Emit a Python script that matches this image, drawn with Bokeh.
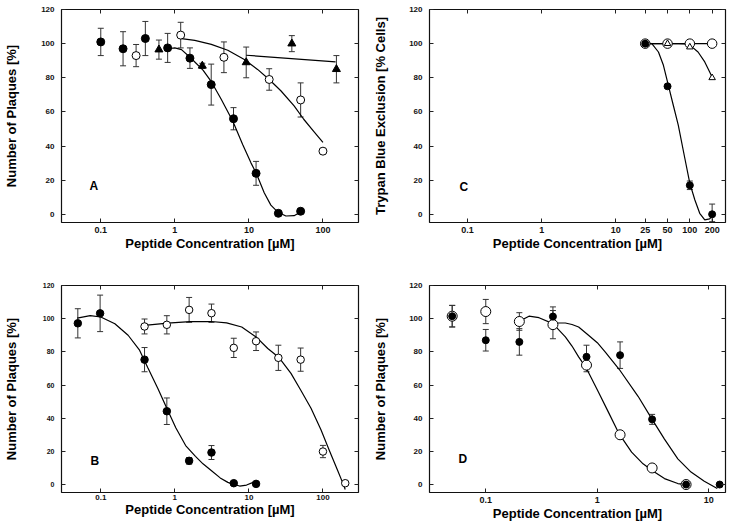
from bokeh.plotting import figure
from bokeh.layouts import gridplot
from bokeh.models import (FixedTicker, LogAxis, LinearAxis, Whisker, TeeHead,
                          ColumnDataSource, Range1d, Label, CustomJSTickFormatter)
from bokeh.embed import file_html
from bokeh.resources import INLINE

FONT = "Liberation Sans"

# ---------------- axis ticks ----------------
y_ticks = [0, 20, 40, 60, 80, 100, 120]
x_ticks_std = [0.1, 1, 10, 100]
x_ticks_C = [0.1, 1, 10, 25, 50, 100, 200]
x_ticks_D = [0.1, 1, 10]

# ---------------- panel A ----------------
A_filled_x = [0.1, 0.2, 0.4, 0.8, 1.6, 3.1, 6.2, 12.5, 25, 50]
A_filled_y = [101, 97, 103, 97.5, 91.5, 76, 56, 24, 0.6, 1.8]
A_filled_err = [8, 10, 10, 8.5, 6, 12, 6.5, 7, 0, 0]
A_open_x = [0.3, 1.2, 4.6, 18.8, 50, 100]
A_open_y = [93, 105, 92, 79, 67, 37]
A_open_err = [6.5, 7.5, 9, 6.3, 10, 0]
A_tri_x = [0.61, 2.35, 9.2, 38, 152]
A_tri_y = [96.5, 87, 89, 100, 85]
A_tri_err = [5.6, 1.5, 9, 4.7, 8]
A_fit_filled_x = [0.81, 1.0, 1.23, 1.67, 2.4, 3.11, 4.23, 6.07, 8.27, 10.7, 12.5, 16.1, 19.8, 24.4, 31.6, 40.8, 50]
A_fit_filled_y = [97, 97.5, 96.5, 91.3, 84.5, 77.7, 67.4, 54.5, 40.8, 30, 24.3, 12.6, 5.4, 1.4, -1, -0.8, 1.4]
A_fit_open_x = [1.23, 1.86, 3.11, 5.19, 8.68, 13.1, 18.8, 27, 40.8, 55, 75.5, 100]
A_fit_open_y = [102.9, 101.9, 99.6, 96.1, 90.7, 84.9, 79, 72.4, 63.5, 55.7, 48.5, 42.1]
A_fit_tri_x = [9.2, 148]
A_fit_tri_y = [93.2, 89.3]

# ---------------- panel B ----------------
B_filled_x = [0.049, 0.098, 0.39, 0.78, 1.56, 3.125, 6.25, 12.5]
B_filled_y = [97.2, 103.2, 75.3, 44.2, 14.3, 19.3, 0.8, 0.4]
B_filled_err = [8.8, 11, 7.3, 8, 2, 4.2, 0, 0]
B_open_x = [0.39, 0.78, 1.56, 3.125, 6.25, 12.5, 25, 50, 100, 200]
B_open_y = [95.3, 96.3, 105.3, 103.3, 82.4, 86.4, 76.4, 75.3, 19.9, 0.8]
B_open_err = [4.5, 5.5, 7.5, 5.5, 5.8, 5.6, 7.6, 7, 3.7, 0]
B_fit_filled_x = [0.048, 0.072, 0.1, 0.155, 0.234, 0.334, 0.432, 0.588, 0.782, 1.03, 1.4, 1.9, 2.4, 3.1, 4.1, 5.2, 6.2, 7.5, 9.3, 11.4, 12.5]
B_fit_filled_y = [100.3, 101.8, 101, 96.9, 90, 81, 70.4, 58.1, 45.8, 34.2, 23.5, 17, 12.5, 8.5, 4, 1.3, 0.1, -0.9, -0.3, 1.3, 1.8]
B_fit_open_x = [0.39, 0.8, 1.6, 3.1, 5, 8, 12.5, 18, 25.7, 37, 50, 69, 94, 122, 158, 185, 200]
B_fit_open_y = [96, 97.3, 98.2, 98.3, 97.5, 95, 89, 82, 76.4, 67, 57, 46, 33, 20.5, 8.5, 1, -3]

# ---------------- panel C ----------------
C_filled_x = [25, 50, 100, 200]
C_filled_y = [100, 75, 17, 0]
C_filled_err = [0, 0, 2.5, 6]
C_open_x = [25, 50, 100, 200]
C_open_y = [100, 100, 100, 100]
C_tri_x = [25, 50, 100, 200]
C_tri_y = [100, 100, 98, 80]
C_fit_filled_x = [25, 30.7, 37.7, 44, 51.3, 59.8, 69.8, 85.7, 100, 117, 136, 159, 185, 206]
C_fit_filled_y = [100.4, 100, 95.1, 87.3, 75.6, 63.9, 52.2, 32.7, 18.1, 8.4, 0.6, -3.3, -2.7, -0.4]
C_fit_open_x = [25, 200]
C_fit_open_y = [100, 100]
C_fit_tri_x = [25, 70, 85.7, 105, 129, 159, 200]
C_fit_tri_y = [100, 100, 99.8, 98.4, 95.1, 89.3, 80.5]

# ---------------- panel D ----------------
D_filled_x = [0.05, 0.1, 0.2, 0.4, 0.8, 1.6, 3.1, 6.25, 12.5]
D_filled_y = [101.5, 87, 86, 101.3, 77, 78, 39.3, 0, 0]
D_filled_err = [6.5, 6.5, 8, 5.8, 7, 8, 3, 0, 0]
D_open_x = [0.05, 0.1, 0.2, 0.4, 0.8, 1.6, 3.1, 6.25]
D_open_y = [101.5, 104.3, 98.3, 96.4, 72, 30, 10, 0]
D_open_err = [6.5, 7.3, 5.3, 8.5, 4, 0, 0, 0]
D_fit_open_x = [0.2, 0.244, 0.3, 0.4, 0.517, 0.593, 0.68, 0.8, 1.02, 1.26, 1.57, 2.03, 2.57, 3.1, 4.0, 5.27, 6.25, 6.9]
D_fit_open_y = [98.5, 101.5, 100.6, 97, 89, 83.5, 77, 70, 56, 43.5, 30.5, 19.5, 12.5, 8.5, 3.6, 0.6, 0, 0.5]
D_fit_filled_x = [0.4, 0.517, 0.593, 0.68, 0.834, 1.0, 1.175, 1.57, 2.32, 3.1, 4.0, 5.27, 6.92, 9.1, 11.9]
D_fit_filled_y = [97.4, 97.4, 96.5, 95, 90, 85.5, 80, 69.5, 53.2, 39.3, 27.4, 15.5, 7.5, 2, -2.4]

Y_MIN = -4.8
Y_MAX = 120


def make_panel(width, height, xr, xticks, ylabel, borders, xtick_px, ytick_px,
               ylab_standoff, xtick_standoff, xlab_standoff):
    bl, br, bt, bb = borders
    p = figure(width=width, height=height, x_axis_type="log",
               x_range=Range1d(*xr), y_range=Range1d(Y_MIN, Y_MAX),
               output_backend="svg", toolbar_location=None,
               min_border_left=bl, min_border_right=br,
               min_border_top=bt, min_border_bottom=bb,
               background_fill_color="white", border_fill_color="white")
    p.grid.visible = False
    p.outline_line_color = "#111111"
    p.outline_line_width = 1.2
    p.xaxis.ticker = FixedTicker(ticks=xticks, minor_ticks=[])
    p.xaxis.formatter = CustomJSTickFormatter(code="return String(tick)")
    p.yaxis.ticker = FixedTicker(ticks=y_ticks, minor_ticks=[])
    for ax in (p.xaxis[0], p.yaxis[0]):
        ax.axis_line_color = None
        ax.major_tick_in = 4
        ax.major_tick_out = 0
        ax.major_tick_line_color = "#222222"
        ax.minor_tick_line_color = None
        ax.major_label_text_font = FONT
        ax.major_label_text_font_style = "bold"
        ax.major_label_text_color = "#111111"
        ax.axis_label_text_font = FONT
        ax.axis_label_text_font_size = "13px"
        ax.axis_label_text_font_style = "bold"
        ax.axis_label_text_color = "black"
    p.xaxis.major_label_text_font_size = xtick_px
    p.yaxis.major_label_text_font_size = ytick_px
    p.xaxis.axis_label = "Peptide Concentration [µM]"
    p.yaxis.axis_label = ylabel
    p.xaxis.major_label_standoff = xtick_standoff
    p.xaxis.axis_label_standoff = xlab_standoff
    p.yaxis.major_label_standoff = 7
    p.yaxis.axis_label_standoff = ylab_standoff

    top = LogAxis(ticker=FixedTicker(ticks=xticks, minor_ticks=[]),
                  formatter=CustomJSTickFormatter(code="return ''"),
                  major_label_text_font_size="0px", major_label_standoff=0,
                  major_tick_in=4, major_tick_out=0, major_tick_line_color="#222222",
                  minor_tick_line_color=None, axis_line_color=None)
    p.add_layout(top, "above")
    right = LinearAxis(ticker=FixedTicker(ticks=y_ticks, minor_ticks=[]),
                       formatter=CustomJSTickFormatter(code="return ''"),
                       major_label_text_font_size="0px", major_label_standoff=0,
                       major_tick_in=4, major_tick_out=0, major_tick_line_color="#222222",
                       minor_tick_line_color=None, axis_line_color=None)
    p.add_layout(right, "right")
    return p


def add_err(p, xs, ys, errs):
    bx, lo, hi = [], [], []
    for x, y, e in zip(xs, ys, errs):
        if e > 0:
            bx.append(x)
            lo.append(max(y - e, Y_MIN + 0.5))
            hi.append(y + e)
    src = ColumnDataSource(dict(base=bx, lower=lo, upper=hi))
    w = Whisker(source=src, base="base", lower="lower", upper="upper",
                dimension="height", line_color="#333333", line_width=1,
                upper_head=TeeHead(size=6, line_color="#333333", line_width=1),
                lower_head=TeeHead(size=6, line_color="#333333", line_width=1))
    p.add_layout(w)


def fit(p, xs, ys):
    p.line(xs, ys, line_color="black", line_width=1.2)


def filled(p, xs, ys, size=8, marker="circle"):
    p.scatter(xs, ys, marker=marker, size=size, fill_color="black", line_color="black")


def hollow(p, xs, ys, size=8, marker="circle"):
    p.scatter(xs, ys, marker=marker, size=size, fill_color="white",
              line_color="black", line_width=1)


def letter(p, text, x, y):
    p.add_layout(Label(x=x, y=y, x_units="screen", y_units="screen", text=text,
                       text_font=FONT, text_font_size="12px", text_font_style="bold",
                       text_color="black"))


# ---- A ----
pa = make_panel(370, 264, (0.0295, 302), x_ticks_std, "Number of Plaques [%]",
                (59, 12, 9, 41), "9px", "8px", 19, 4, 0)
fit(pa, A_fit_filled_x, A_fit_filled_y)
fit(pa, A_fit_open_x, A_fit_open_y)
fit(pa, A_fit_tri_x, A_fit_tri_y)
add_err(pa, A_filled_x, A_filled_y, A_filled_err)
add_err(pa, A_open_x, A_open_y, A_open_err)
add_err(pa, A_tri_x, A_tri_y, A_tri_err)
filled(pa, A_filled_x, A_filled_y, size=8)
hollow(pa, A_open_x, A_open_y, size=8)
filled(pa, A_tri_x, A_tri_y, size=8, marker="triangle")
letter(pa, "A", 28, 30)

# ---- C ----
pc = make_panel(366, 264, (0.0306, 303), x_ticks_C, "Trypan Blue Exclusion [% Cells]",
                (56, 11, 8, 42), "9px", "8px", 18, 4, 0)
fit(pc, C_fit_open_x, C_fit_open_y)
fit(pc, C_fit_tri_x, C_fit_tri_y)
fit(pc, C_fit_filled_x, C_fit_filled_y)
add_err(pc, C_filled_x, C_filled_y, C_filled_err)
hollow(pc, C_open_x, C_open_y, size=9.5)
hollow(pc, C_tri_x, C_tri_y, size=6.5, marker="triangle")
filled(pc, C_filled_x, C_filled_y, size=7)
letter(pc, "C", 30, 29)

# ---- B ----
pb = make_panel(370, 263, (0.0295, 302), x_ticks_std, "Number of Plaques [%]",
                (59, 12, 19, 35), "8px", "7px", 21, 2, -1)
fit(pb, B_fit_filled_x, B_fit_filled_y)
fit(pb, B_fit_open_x, B_fit_open_y)
add_err(pb, B_filled_x, B_filled_y, B_filled_err)
add_err(pb, B_open_x, B_open_y, B_open_err)
filled(pb, B_filled_x, B_filled_y, size=7.5)
hollow(pb, B_open_x, B_open_y, size=7.5)
letter(pb, "B", 29, 25)

# ---- D ----
pd_ = make_panel(366, 263, (0.0313, 14.1), x_ticks_D, "Number of Plaques [%]",
                 (56, 11, 21, 33), "9px", "8px", 18, 4, 0)
fit(pd_, D_fit_open_x, D_fit_open_y)
fit(pd_, D_fit_filled_x, D_fit_filled_y)
add_err(pd_, D_filled_x, D_filled_y, D_filled_err)
add_err(pd_, D_open_x, D_open_y, D_open_err)
hollow(pd_, D_open_x, D_open_y, size=10)
filled(pd_, D_filled_x, D_filled_y, size=7)
letter(pd_, "D", 29, 27)

grid = gridplot([[pa, pc], [pb, pd_]], toolbar_location=None)

open("out.html", "w").write(file_html(grid, INLINE))
